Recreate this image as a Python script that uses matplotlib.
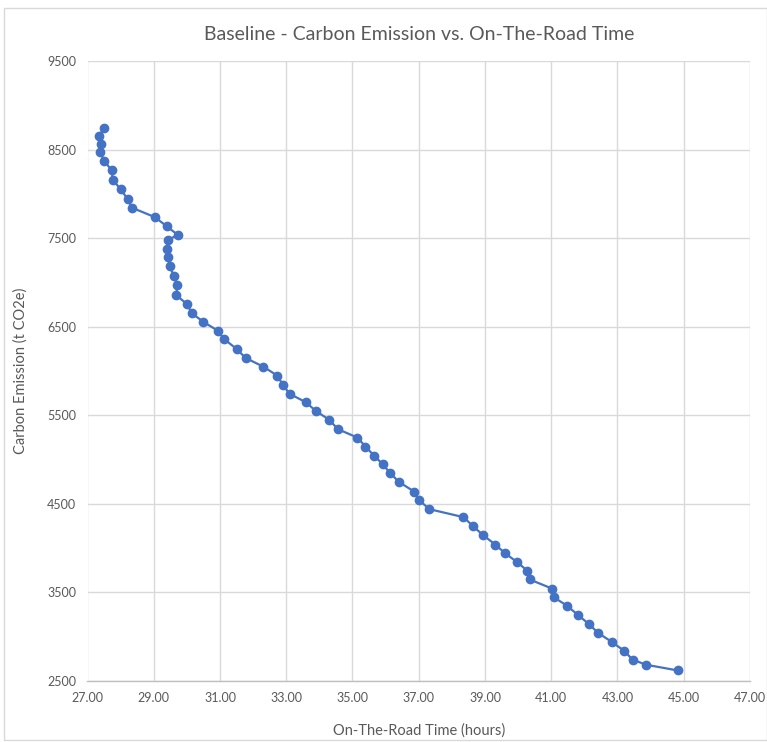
import matplotlib
matplotlib.use("Agg")
import matplotlib.pyplot as plt
from matplotlib.patches import Rectangle
from matplotlib.ticker import FormatStrFormatter

plt.rcParams['font.family'] = ['Lato', 'DejaVu Sans']

time_hours = [27.50, 27.35, 27.41, 27.38, 27.51, 27.73, 27.76, 28.00, 28.21, 28.34,
              29.04, 29.39, 29.73, 29.42, 29.39, 29.42, 29.49, 29.60, 29.71, 29.68,
              30.01, 30.15, 30.50, 30.93, 31.13, 31.51, 31.77, 32.30, 32.73, 32.90,
              33.10, 33.59, 33.89, 34.30, 34.56, 35.15, 35.39, 35.65, 35.91, 36.13,
              36.41, 36.86, 37.01, 37.32, 38.35, 38.64, 38.94, 39.31, 39.60, 39.97,
              40.28, 40.35, 41.02, 41.07, 41.48, 41.80, 42.13, 42.41, 42.82, 43.19,
              43.46, 43.87, 44.82]
emission = [8740, 8657, 8567, 8470, 8368, 8267, 8161, 8052, 7942, 7844,
            7736, 7634, 7536, 7480, 7381, 7291, 7183, 7073, 6968, 6855,
            6754, 6652, 6554, 6456, 6359, 6246, 6148, 6050, 5948, 5843,
            5742, 5648, 5550, 5448, 5343, 5248, 5147, 5045, 4948, 4850,
            4745, 4639, 4542, 4440, 4350, 4248, 4147, 4041, 3944, 3842,
            3744, 3646, 3544, 3447, 3349, 3247, 3146, 3044, 2943, 2844,
            2740, 2683, 2619]

x_ticks = [27, 29, 31, 33, 35, 37, 39, 41, 43, 45, 47]
y_ticks = [2500, 3500, 4500, 5500, 6500, 7500, 8500, 9500]

title = "Baseline - Carbon Emission vs. On-The-Road Time"
xlabel = "On-The-Road Time (hours)"
ylabel = "Carbon Emission (t CO2e)"

W, H = 767, 742
fig = plt.figure(figsize=(W / 100, H / 100), dpi=100)
ax = fig.add_axes([87.5 / W, 1 - 681 / H, (750 - 87.5) / W, (681 - 61) / H])

blue = "#4472C4"
ax.plot(time_hours, emission, color=blue, linewidth=1.6, marker='o',
        markersize=6, markerfacecolor=blue, markeredgecolor=blue, zorder=3)

ax.set_xlim(x_ticks[0], x_ticks[-1])
ax.set_ylim(y_ticks[0], y_ticks[-1])
ax.set_xticks(x_ticks)
ax.set_yticks(y_ticks)
ax.xaxis.set_major_formatter(FormatStrFormatter('%.2f'))
ax.yaxis.set_major_formatter(FormatStrFormatter('%d'))

ax.grid(True, color="#D9D9D9", linewidth=1.0, zorder=0)
for side in ['top', 'right', 'left']:
    ax.spines[side].set_visible(False)
ax.spines['bottom'].set_color("#BFBFBF")
ax.spines['bottom'].set_linewidth(1.0)
ax.tick_params(axis='both', length=0, colors="#595959", labelsize=9, pad=8)

ax.set_xlabel(xlabel, fontsize=10.5, color="#595959", labelpad=14)
ax.set_ylabel(ylabel, fontsize=10.5, color="#595959", labelpad=14)
ax.set_title(title, fontsize=14, color="#595959", pad=15)

fig.patches.append(Rectangle((4 / W, 2 / H), 1 - 4 / W, 1 - 10 / H, transform=fig.transFigure,
                             fill=False, edgecolor="#D9D9D9", linewidth=1.0))

fig.savefig("out.png", dpi=100)
